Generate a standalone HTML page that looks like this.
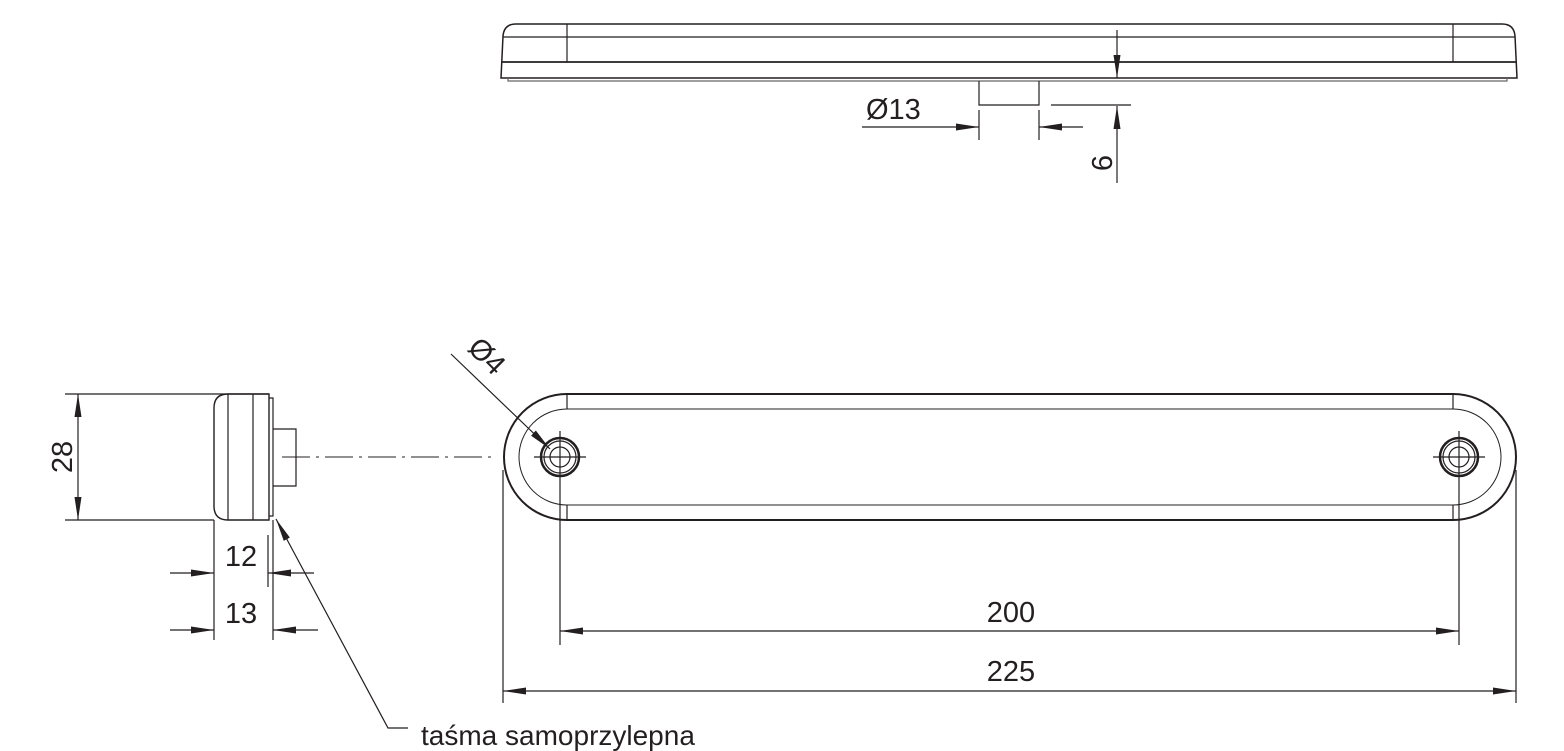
<!DOCTYPE html>
<html><head><meta charset="utf-8"><style>
html,body{margin:0;padding:0;background:#fff;}
svg{display:block;}
text{font-family:"Liberation Sans",Arial,sans-serif;fill:#231f20;}
</style></head><body>
<svg width="1564" height="751" viewBox="0 0 1564 751" xmlns="http://www.w3.org/2000/svg">
<defs>
<marker id="a" markerWidth="23" markerHeight="9" refX="23" refY="4.5" orient="auto" markerUnits="userSpaceOnUse"><path d="M0,1 L23,4.5 L0,8 Z" fill="#231f20"/></marker>
</defs>
<g stroke="#231f20" fill="none" stroke-width="1.2">
<!-- top view -->
<path d="M501,78 L503,36 Q504,24 516,24 L1502,24 Q1514,24 1515,36 L1517,78 Z" stroke-width="1.5"/>
<line x1="503" y1="37" x2="1515" y2="37"/>
<line x1="502" y1="62" x2="1516" y2="62" stroke-width="1.8"/>
<line x1="567" y1="24" x2="567" y2="62"/>
<line x1="1453" y1="24" x2="1453" y2="62"/>
<path d="M508,78 L508,81 L1507,81 L1507,78" stroke="#666"/>
<path d="M979,81 L979,105 L1039,105 L1039,81"/>
<line x1="1117" y1="30" x2="1117" y2="78" marker-end="url(#a)"/>
<line x1="1051" y1="105" x2="1131" y2="105"/>
<line x1="1117" y1="183" x2="1117" y2="106" marker-end="url(#a)"/>
<line x1="979" y1="110" x2="979" y2="140"/>
<line x1="1039" y1="110" x2="1039" y2="140"/>
<line x1="862" y1="127" x2="979" y2="127" marker-end="url(#a)"/>
<line x1="1083" y1="127" x2="1039" y2="127" marker-end="url(#a)"/>

<!-- side view -->
<path d="M269,394 L228,394 Q214,394 214,408 L214,506 Q214,520 228,520 L269,520 Z" stroke-width="1.4"/>
<line x1="228" y1="394" x2="228" y2="520"/>
<line x1="253" y1="394" x2="253" y2="520"/>
<path d="M269,398 L273,398 L273,516 L269,516"/>
<path d="M273,429 L296,429 L296,486 L273,486"/>
<line x1="282" y1="457" x2="496" y2="457" stroke-dasharray="28,6,3,6" stroke-width="1"/>
<line x1="65" y1="394" x2="269" y2="394"/>
<line x1="65" y1="520" x2="214" y2="520"/>
<line x1="78" y1="457" x2="78" y2="394" marker-end="url(#a)"/>
<line x1="78" y1="457" x2="78" y2="520" marker-end="url(#a)"/>
<line x1="214" y1="520" x2="214" y2="640"/>
<line x1="268" y1="535" x2="268" y2="587"/>
<line x1="273" y1="520" x2="273" y2="640"/>
<line x1="170" y1="573" x2="214" y2="573" marker-end="url(#a)"/>
<line x1="314" y1="573" x2="268" y2="573" marker-end="url(#a)"/>
<line x1="170" y1="630" x2="214" y2="630" marker-end="url(#a)"/>
<line x1="318" y1="630" x2="273" y2="630" marker-end="url(#a)"/>
<path d="M408,728 L388,728 L276,519" marker-end="url(#a)"/>

<!-- front view -->
<path d="M567,394 L1453,394 A63,63 0 0 1 1453,520 L567,520 A63,63 0 0 1 567,394 Z" stroke-width="2"/>
<path d="M567,409 L1453,409 A48,48 0 0 1 1453,505 L567,505 A48,48 0 0 1 567,409 Z" stroke-width="1"/>
<line x1="567" y1="394" x2="567" y2="409"/>
<line x1="1453" y1="394" x2="1453" y2="409"/>
<line x1="567" y1="505" x2="567" y2="520"/>
<line x1="1453" y1="505" x2="1453" y2="520"/>
<circle cx="560" cy="457" r="19" stroke-width="2.5"/>
<circle cx="560" cy="457" r="16"/>
<circle cx="560" cy="457" r="10"/>
<line x1="534" y1="457" x2="586" y2="457"/>
<line x1="560" y1="431" x2="560" y2="645"/>
<circle cx="1459" cy="457" r="19" stroke-width="2.5"/>
<circle cx="1459" cy="457" r="16"/>
<circle cx="1459" cy="457" r="10"/>
<line x1="1433" y1="457" x2="1485" y2="457"/>
<line x1="1459" y1="431" x2="1459" y2="645"/>
<line x1="503" y1="470" x2="503" y2="703"/>
<line x1="1516" y1="470" x2="1516" y2="703"/>
<line x1="1010" y1="631" x2="560" y2="631" marker-end="url(#a)"/>
<line x1="1010" y1="631" x2="1459" y2="631" marker-end="url(#a)"/>
<line x1="1010" y1="691" x2="503" y2="691" marker-end="url(#a)"/>
<line x1="1010" y1="691" x2="1516" y2="691" marker-end="url(#a)"/>
<line x1="451" y1="354" x2="550" y2="449" marker-end="url(#a)"/>
</g>
<g font-size="29">
<text x="866" y="119">Ø13</text>
<text transform="translate(1112,163) rotate(-90)" text-anchor="middle">6</text>
<text transform="translate(72,457) rotate(-90)" text-anchor="middle">28</text>
<text x="241" y="566" text-anchor="middle">12</text>
<text x="241" y="623" text-anchor="middle">13</text>
<text x="1011" y="622" text-anchor="middle">200</text>
<text x="1011" y="681" text-anchor="middle">225</text>
<text transform="translate(480,363) rotate(45)" text-anchor="middle">Ø4</text>
</g>
<text x="421" y="745" font-size="28">taśma samoprzylepna</text>
</svg>
</body></html>
